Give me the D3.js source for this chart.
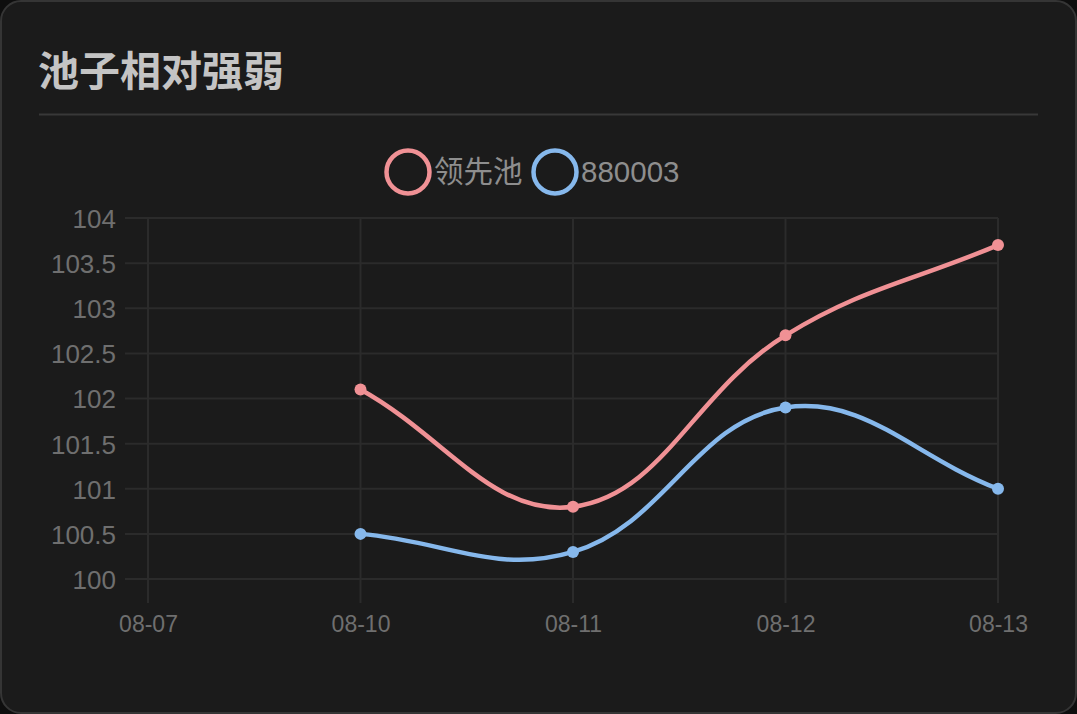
<!DOCTYPE html>
<html><head><meta charset="utf-8">
<script src="https://cdn.jsdelivr.net/npm/d3@7"></script>
<style>
html,body{margin:0;padding:0;background:#0e0e0e;}
svg{display:block;}
</style></head>
<body>
<svg id="c" width="1077" height="714"></svg>
<script>
const title = "池子相对强弱";
const categories = ["08-07", "08-10", "08-11", "08-12", "08-13"];
const seriesNames = ["领先池", "880003"];
const seriesColors = ["#f09195", "#86b8ec"];
const leaderValues = [null, 102.1, 100.8, 102.7, 103.7];
const indexValues = [null, 100.5, 100.3, 101.9, 101.0];
const yTicks = [100, 100.5, 101, 101.5, 102, 102.5, 103, 103.5, 104];

const svg = d3.select("#c");
const W = 1077, H = 714;

// card
svg.append("rect").attr("x", 1).attr("y", 1).attr("width", W - 2).attr("height", H - 2)
  .attr("rx", 20).attr("fill", "#1b1b1b").attr("stroke", "#353535").attr("stroke-width", 2);

svg.append("text").attr("x", 38).attr("y", 86).text(title)
  .attr("font-family", "'Noto Sans CJK SC', sans-serif").attr("font-weight", 700)
  .attr("font-size", 41).attr("fill", "#c4c4c4");
svg.append("line").attr("x1", 39).attr("x2", 1038).attr("y1", 114.5).attr("y2", 114.5)
  .attr("stroke", "#383838").attr("stroke-width", 2);

const x = d3.scalePoint().domain(categories).range([148, 998]);
const y = d3.scaleLinear().domain([100, 104]).range([579, 218]);

const grid = svg.append("g");
const gridColor = "#2b2b2b";
yTicks.forEach(t => {
  grid.append("line").attr("x1", 125).attr("x2", 998).attr("y1", y(t)).attr("y2", y(t))
    .attr("stroke", gridColor).attr("stroke-width", 2);
});
categories.forEach(c => {
  grid.append("line").attr("x1", x(c)).attr("x2", x(c)).attr("y1", 218).attr("y2", 603)
    .attr("stroke", gridColor).attr("stroke-width", 2);
});

// axes labels via d3 axes
const yAxis = svg.append("g").attr("transform", "translate(125,0)")
  .call(d3.axisLeft(y).tickValues(yTicks).tickSize(0).tickPadding(9).tickFormat(d => d3.format("")(d)));
yAxis.select(".domain").remove();
yAxis.selectAll("text").attr("font-family", "'Liberation Sans', Arial, sans-serif")
  .attr("font-size", 26).attr("fill", "#6f6f6f").attr("dy", "0.36em");

const xAxis = svg.append("g").attr("transform", "translate(0,603)")
  .call(d3.axisBottom(x).tickSize(0).tickPadding(12));
xAxis.select(".domain").remove();
xAxis.selectAll("text").attr("font-family", "'Liberation Sans', Arial, sans-serif")
  .attr("font-size", 23).attr("fill", "#6f6f6f").attr("dy", "0.72em");

// Chart.js-like spline curve (tension 0.4)
function ChartJsCurve(context) { this._context = context; }
ChartJsCurve.prototype = {
  areaStart() {}, areaEnd() {},
  lineStart() { this._pts = []; },
  point(px, py) { this._pts.push([px, py]); },
  lineEnd() {
    const p = this._pts, ctx = this._context, t = 0.4, n = p.length;
    if (!n) return;
    const cps = p.map((cur, i) => {
      const prev = p[i - 1] || cur, next = p[i + 1] || cur;
      const d01 = Math.hypot(cur[0] - prev[0], cur[1] - prev[1]);
      const d12 = Math.hypot(next[0] - cur[0], next[1] - cur[1]);
      let s01 = d01 / (d01 + d12), s12 = d12 / (d01 + d12);
      if (isNaN(s01)) s01 = 0; if (isNaN(s12)) s12 = 0;
      const fa = t * s01, fb = t * s12;
      return {
        prev: [cur[0] - fa * (next[0] - prev[0]), cur[1] - fa * (next[1] - prev[1])],
        next: [cur[0] + fb * (next[0] - prev[0]), cur[1] + fb * (next[1] - prev[1])]
      };
    });
    ctx.moveTo(p[0][0], p[0][1]);
    for (let i = 1; i < n; i++) {
      ctx.bezierCurveTo(cps[i - 1].next[0], cps[i - 1].next[1], cps[i].prev[0], cps[i].prev[1], p[i][0], p[i][1]);
    }
  }
};
const chartJsCurve = ctx => new ChartJsCurve(ctx);

const series = [leaderValues, indexValues];
const line = d3.line().defined(d => d.v !== null).x(d => x(d.c)).y(d => y(d.v)).curve(chartJsCurve);

series.forEach((vals, si) => {
  const data = categories.map((c, i) => ({ c, v: vals[i] }));
  svg.append("path").datum(data.filter(d => d.v !== null)).attr("d", line)
    .attr("fill", "none").attr("stroke", seriesColors[si]).attr("stroke-width", 4.5)
    .attr("stroke-linejoin", "round").attr("stroke-linecap", "round");
  svg.append("g").selectAll("circle").data(data.filter(d => d.v !== null)).join("circle")
    .attr("cx", d => x(d.c)).attr("cy", d => y(d.v)).attr("r", 6)
    .attr("fill", seriesColors[si]);
});

// legend
const legend = svg.append("g");
const legendItems = [{ cx: 408, tx: 434 }, { cx: 555, tx: 581 }];
seriesNames.forEach((name, i) => {
  legend.append("circle").attr("cx", legendItems[i].cx).attr("cy", 172).attr("r", 21.5)
    .attr("fill", "#1b1b1b").attr("stroke", seriesColors[i]).attr("stroke-width", 4.5);
  legend.append("text").attr("x", legendItems[i].tx).attr("y", 182).text(name)
    .attr("font-family", "'Liberation Sans', 'Noto Sans CJK SC', sans-serif")
    .attr("font-size", 29.5).attr("fill", "#8e8e8e");
});
</script>
</body></html>
